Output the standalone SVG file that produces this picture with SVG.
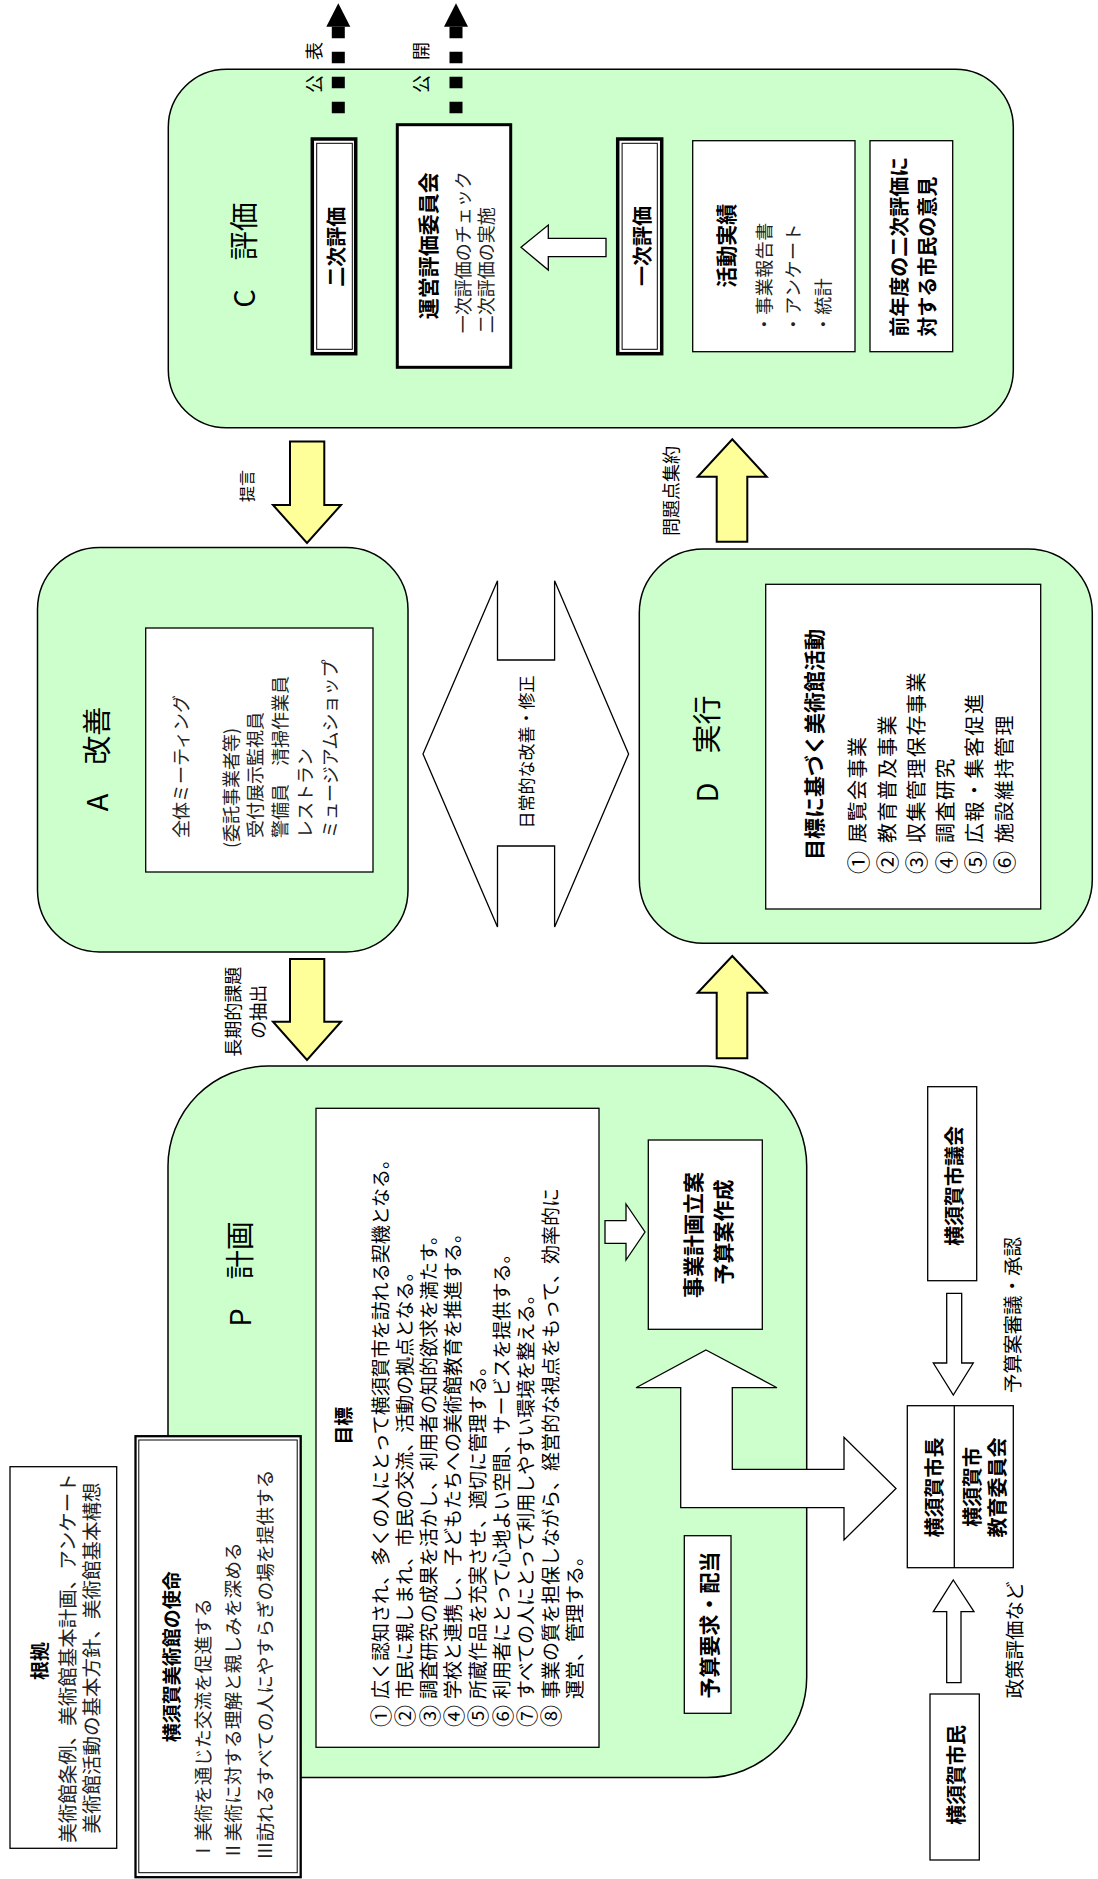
<svg xmlns="http://www.w3.org/2000/svg" width="1098" height="1879" viewBox="0 0 1098 1879">
<style>
text{font-family:"Noto Sans CJK JP","Noto Sans",sans-serif;dominant-baseline:central;fill:#000}
.b{font-weight:bold}
.l{font-weight:normal;fill:#222}
.m{text-anchor:middle}
.g{fill:#ccffcc;stroke:#000;stroke-width:1.5}
.w{fill:#fff;stroke:#000;stroke-width:1.3}
.y{fill:#ffff99;stroke:#000;stroke-width:2;stroke-linejoin:miter}
.h{fill:#fff;stroke:#000;stroke-width:1.3}
.dash{stroke:#000;stroke-width:13;stroke-dasharray:11.6 13.4}
.n{font-size:23px;letter-spacing:0}
</style>
<rect width="1098" height="1879" fill="#fff"/>

<!-- C -->
<g id="node-c">
<rect class="g" x="168.3" y="69.3" width="845" height="358.4" rx="58"/>
<text class="m" font-size="29" transform="translate(241.7 255) rotate(-90)">C　評価</text>
</g>
<g id="node-niji">
<rect x="312.3" y="139" width="43.4" height="214.7" fill="#fff" stroke="#000" stroke-width="3.5"/>
<rect x="316.7" y="143.3" width="35.6" height="206" fill="none" stroke="#000" stroke-width="1"/>
<text class="b m" font-size="20" transform="translate(335 246.7) rotate(-90)">二次評価</text>
</g>
<g id="node-unei">
<rect x="397.3" y="124.7" width="113.4" height="242.6" fill="#fff" stroke="#000" stroke-width="3"/>
<text class="b m" font-size="21" transform="translate(426.7 245.8) rotate(-90)">運営評価委員会</text>
<text class="l" font-size="18" transform="translate(461.7 333.3) rotate(-90)">一次評価のチェック</text>
<text class="l" font-size="18" transform="translate(485 333.3) rotate(-90)">二次評価の実施</text>
</g>
<g id="node-ichiji">
<rect x="617.7" y="139" width="44" height="214.7" fill="#fff" stroke="#000" stroke-width="3.5"/>
<rect x="622.1" y="143.3" width="35.2" height="206" fill="none" stroke="#000" stroke-width="1"/>
<text class="b m" font-size="20" transform="translate(641.7 246) rotate(-90)">一次評価</text>
</g>
<g id="node-katsudo">
<rect class="w" x="692.7" y="140.7" width="162.3" height="211"/>
<text class="b m" font-size="21" transform="translate(725 245.8) rotate(-90)">活動実績</text>
<text class="l" font-size="18" letter-spacing="0.5" transform="translate(763.3 333.3) rotate(-90)">・事業報告書</text>
<text class="l" font-size="18" letter-spacing="0.5" transform="translate(791.7 333.3) rotate(-90)">・アンケート</text>
<text class="l" font-size="18" letter-spacing="0.5" transform="translate(821.7 333.3) rotate(-90)">・統計</text>
</g>
<g id="node-zennendo">
<rect class="w" x="870" y="140.7" width="82.7" height="211"/>
<text class="b" font-size="20" transform="translate(898.3 336.7) rotate(-90)">前年度の二次評価に</text>
<text class="b" font-size="20" transform="translate(926.7 336.7) rotate(-90)">対する市民の意見</text>
</g>

<!-- A -->
<g id="node-a">
<rect class="g" x="37.5" y="547.5" width="370.5" height="404.5" rx="62"/>
<text class="m" font-size="29" transform="translate(95 759) rotate(-90)">A　改善</text>
<rect class="w" x="145.7" y="628" width="227.3" height="244"/>
<text class="l" font-size="18" transform="translate(180 838) rotate(-90)">全体ミーティング</text>
<text class="l" font-size="18" transform="translate(230 848) rotate(-90)">(委託事業者等)</text>
<text class="l" font-size="18" transform="translate(254 838) rotate(-90)">受付展示監視員</text>
<text class="l" font-size="18" transform="translate(279 838) rotate(-90)">警備員　清掃作業員</text>
<text class="l" font-size="18" transform="translate(304 838) rotate(-90)">レストラン</text>
<text class="l" font-size="18" transform="translate(329 838) rotate(-90)">ミュージアムショップ</text>
</g>

<!-- D -->
<g id="node-d">
<rect class="g" x="639.3" y="549" width="453" height="394.3" rx="64"/>
<text class="m" font-size="29" transform="translate(705 749) rotate(-90)">D　実行</text>
<rect class="w" x="765.7" y="584.3" width="275" height="324.7"/>
<text class="b" font-size="21" transform="translate(813.3 860) rotate(-90)">目標に基づく美術館活動</text>
<g class="l" font-size="20" letter-spacing="1.5">
<text class="n" transform="translate(856.7 874) rotate(-90)">①</text><text transform="translate(856.7 843) rotate(-90)">展覧会事業</text>
<text class="n" transform="translate(886 874) rotate(-90)">②</text><text transform="translate(886 843) rotate(-90)">教育普及事業</text>
<text class="n" transform="translate(915.3 874) rotate(-90)">③</text><text transform="translate(915.3 843) rotate(-90)">収集管理保存事業</text>
<text class="n" transform="translate(944.6 874) rotate(-90)">④</text><text transform="translate(944.6 843) rotate(-90)">調査研究</text>
<text class="n" transform="translate(973.9 874) rotate(-90)">⑤</text><text transform="translate(973.9 843) rotate(-90)">広報・集客促進</text>
<text class="n" transform="translate(1003.2 874) rotate(-90)">⑥</text><text transform="translate(1003.2 843) rotate(-90)">施設維持管理</text>
</g>
</g>

<!-- P -->
<g id="node-p">
<rect class="g" x="168" y="1066" width="638.7" height="711.5" rx="100"/>
<text class="m" font-size="29" transform="translate(237.5 1274) rotate(-90)">P　計画</text>
<rect class="w" x="316" y="1108.3" width="283" height="639"/>
<text class="b m" font-size="19" transform="translate(342 1425.8) rotate(-90)">目標</text>
<g class="l" font-size="19" transform="translate(0 1727) rotate(-90)">
<text class="n" font-size="22" x="0" y="379" style="font-size:22px">①</text><text x="28" y="379">広く認知され、多くの人にとって横須賀市を訪れる契機となる。</text>
<text class="n" x="0" y="403.3" style="font-size:22px">②</text><text x="28" y="403.3">市民に親しまれ、市民の交流、活動の拠点となる。</text>
<text class="n" x="0" y="427.6" style="font-size:22px">③</text><text x="28" y="427.6">調査研究の成果を活かし、利用者の知的欲求を満たす。</text>
<text class="n" x="0" y="451.9" style="font-size:22px">④</text><text x="28" y="451.9">学校と連携し、子どもたちへの美術館教育を推進する。</text>
<text class="n" x="0" y="476.2" style="font-size:22px">⑤</text><text x="28" y="476.2">所蔵作品を充実させ、適切に管理する。</text>
<text class="n" x="0" y="500.5" style="font-size:22px">⑥</text><text x="28" y="500.5">利用者にとって心地よい空間、サービスを提供する。</text>
<text class="n" x="0" y="524.8" style="font-size:22px">⑦</text><text x="28" y="524.8">すべての人にとって利用しやすい環境を整える。</text>
<text class="n" x="0" y="549.1" style="font-size:22px">⑧</text><text x="28" y="549.1">事業の質を担保しながら、経営的な視点をもって、効率的に</text>
<text x="28" y="573.4">運営、管理する。</text>
</g>
</g>
<g id="node-jigyo">
<rect class="w" x="648.3" y="1140" width="114" height="189.3"/>
<text class="b m" font-size="21" transform="translate(691.7 1235) rotate(-90)">事業計画立案</text>
<text class="b m" font-size="21" transform="translate(721.7 1232) rotate(-90)">予算案作成</text>
</g>
<g id="node-yosan">
<rect class="w" x="684.3" y="1535.7" width="46.7" height="177.6"/>
<text class="b m" font-size="21" transform="translate(707.7 1625) rotate(-90)">予算要求・配当</text>
</g>

<!-- outside nodes -->
<g id="node-gikai">
<rect class="w" x="927.7" y="1086.7" width="49" height="194"/>
<text class="b m" font-size="20" transform="translate(953.3 1186) rotate(-90)">横須賀市議会</text>
</g>
<g id="node-shicho">
<rect class="w" x="907.3" y="1405.7" width="106" height="162"/>
<line x1="954.3" y1="1405.7" x2="954.3" y2="1567.7" stroke="#000" stroke-width="1.3"/>
<text class="b m" font-size="20" transform="translate(933.3 1487.5) rotate(-90)">横須賀市長</text>
<text class="b m" font-size="20" transform="translate(971.7 1487) rotate(-90)">横須賀市</text>
<text class="b m" font-size="20" transform="translate(996.7 1487.5) rotate(-90)">教育委員会</text>
</g>
<g id="node-shimin">
<rect class="w" x="930" y="1694" width="49.3" height="166"/>
<text class="b m" font-size="20" transform="translate(955 1775) rotate(-90)">横須賀市民</text>
</g>
<g id="node-konkyo">
<rect class="w" x="10" y="1466.7" width="106.7" height="381.6"/>
<text class="b m" font-size="19" transform="translate(38.3 1661) rotate(-90)">根拠</text>
<text class="l m" font-size="19.5" transform="translate(66.7 1658) rotate(-90)">美術館条例、美術館基本計画、アンケート</text>
<text class="l m" font-size="19.5" transform="translate(90 1658) rotate(-90)">美術館活動の基本方針、美術館基本構想</text>
</g>
<g id="node-shimei">
<rect x="135.5" y="1436.2" width="165.2" height="441" fill="#fff" stroke="#000" stroke-width="2.3"/>
<rect x="138.8" y="1440" width="158.4" height="432.7" fill="none" stroke="#000" stroke-width="1"/>
<text class="b m" font-size="19" transform="translate(170 1656.7) rotate(-90)">横須賀美術館の使命</text>
<text class="l" font-size="18.7" transform="translate(201.7 1860) rotate(-90)">Ⅰ美術を通じた交流を促進する</text>
<text class="l" font-size="18.7" transform="translate(231.7 1860) rotate(-90)">Ⅱ美術に対する理解と親しみを深める</text>
<text class="l" font-size="18.7" transform="translate(263.3 1860) rotate(-90)">Ⅲ訪れるすべての人にやすらぎの場を提供する</text>
</g>

<!-- connectors -->
<g id="connectors">
<line class="dash" x1="338.3" y1="113.3" x2="338.3" y2="26.7"/>
<polygon points="326.3,26.7 350.3,26.7 338.3,3.3" fill="#000"/>
<line class="dash" x1="456" y1="113.3" x2="456" y2="26.7"/>
<polygon points="444,26.7 468,26.7 456,3.3" fill="#000"/>
<polygon class="h" points="521,247.3 548.3,225 548.3,238.3 606,238.3 606,256.7 548.3,256.7 548.3,270"/>
<polygon class="y" points="290,441.4 324.3,441.4 324.3,505 341,505 307,543 273,505 290,505"/>
<polygon class="y" points="716.7,541.7 747.3,541.7 747.3,476.7 766.7,476.7 732.3,439.3 697.7,476.7 716.7,476.7"/>
<polygon class="h" points="423,754 497.5,580.7 497.5,660 554.6,660 554.6,580.7 628.6,754 554.6,927 554.6,846 497.5,846 497.5,927"/>
<polygon class="y" points="716.7,1058.3 747.3,1058.3 747.3,992.7 766.7,992.7 732.3,956 697.7,992.7 716.7,992.7"/>
<polygon class="y" points="290,959 324.3,959 324.3,1021.7 341,1021.7 307,1060 273,1021.7 290,1021.7"/>
<polygon class="h" points="605,1220.7 626,1220.7 626,1204 645,1232 626,1260 626,1243.3 605,1243.3"/>
<polygon class="h" points="706,1350 777,1387.7 732.3,1387.7 732.3,1469.3 844,1469.3 844,1437.3 896,1488.5 844,1540 844,1507.7 680.7,1507.7 680.7,1387.7 636,1387.7"/>
<polygon class="h" points="946.7,1293.3 961.7,1293.3 961.7,1363 973.3,1363 953.3,1395 933.3,1363 946.7,1363"/>
<polygon class="h" points="953.3,1580 974,1611.7 961,1611.7 961,1682.7 946.7,1682.7 946.7,1611.7 933.3,1611.7"/>
<g class="l" font-size="18">
<text letter-spacing="15" transform="translate(313.3 93) rotate(-90)">公表</text>
<text letter-spacing="15" transform="translate(420 93) rotate(-90)">公開</text>
<text class="m" font-size="16" transform="translate(246 486) rotate(-90)">提言</text>
<text class="m" transform="translate(670 491) rotate(-90)">問題点集約</text>
<text class="m" font-size="17" transform="translate(525 752) rotate(-90)">日常的な改善・修正</text>
<text class="m" transform="translate(232 1011.7) rotate(-90)">長期的課題</text>
<text class="m" transform="translate(257 1011.7) rotate(-90)">の抽出</text>
<text class="m" font-size="19.5" transform="translate(1011.7 1315) rotate(-90)">予算案審議・承認</text>
<text class="m" font-size="19.5" transform="translate(1013.3 1640) rotate(-90)">政策評価など</text>
</g>
</g>
</svg>
